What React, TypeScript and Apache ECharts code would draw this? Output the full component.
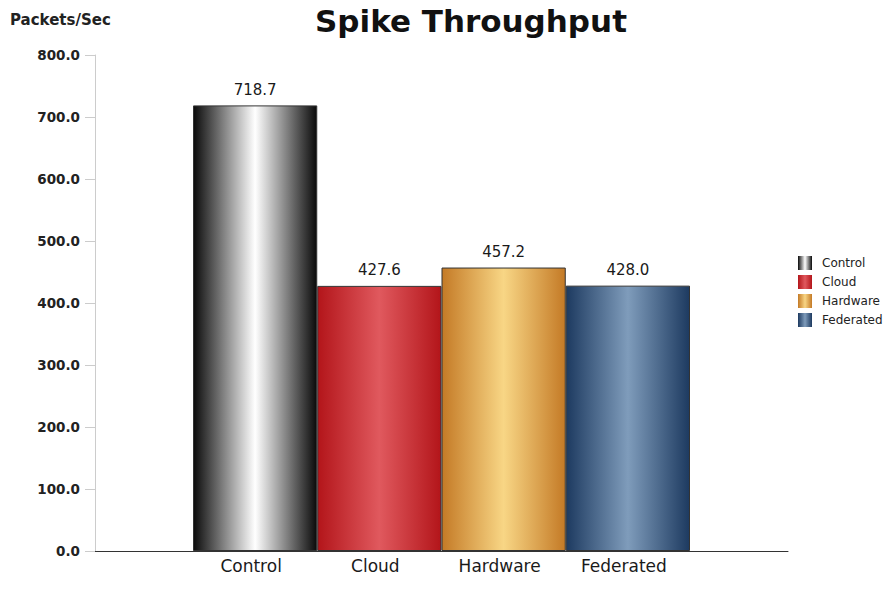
import React, { useEffect, useRef } from "react";
import * as echarts from "echarts";

const categories = ["Control", "Cloud", "Hardware", "Federated"];
const values = [718.7, 427.6, 457.2, 428.0];
const yMin = 0;
const yMax = 800;
const yInterval = 100;

const gradients = [
  ["#0a0a0a", "#ffffff", "#0a0a0a"],
  ["#b3151a", "#e0595e", "#b3151a"],
  ["#c47a26", "#f8d685", "#c47a26"],
  ["#1d3a60", "#7f9cbb", "#1d3a60"],
];

function grad(c: string[]) {
  return new echarts.graphic.LinearGradient(0, 0, 1, 0, [
    { offset: 0, color: c[0] },
    { offset: 0.5, color: c[1] },
    { offset: 1, color: c[2] },
  ]);
}

export default function App() {
  const ref = useRef<HTMLDivElement>(null);
  useEffect(() => {
    if (!ref.current) return;
    const chart = echarts.init(ref.current, null, { renderer: "svg" });
    const series = categories.map((name, i) => ({
      name,
      type: "bar",
      stack: "all",
      xAxisIndex: 1,
      yAxisIndex: 1,
      barWidth: "100%",
      data: categories.map((_, j) => (j === i ? values[i] : "-")),
      itemStyle: { color: grad(gradients[i]), borderColor: "#333", borderWidth: 1 },
      label: {
        show: true,
        position: "top",
        distance: 8,
        formatter: (p: any) => Number(p.value).toFixed(1),
        fontFamily: "DejaVu Sans",
        fontSize: 15,
        color: "#1a1a1a",
      },
    }));
    chart.setOption({
      animation: false,
      backgroundColor: "#fff",
      title: [
        {
          text: "Spike Throughput",
          left: 310,
          top: 0,
          textStyle: { fontFamily: "DejaVu Sans", fontWeight: "bold", fontSize: 31, color: "#111" },
        },
        {
          text: "Packets/Sec",
          left: 5,
          top: 7,
          textStyle: { fontFamily: "DejaVu Sans", fontWeight: "bold", fontSize: 15, color: "#222" },
        },
      ],
      legend: {
        orient: "vertical",
        left: 793,
        top: 251,
        itemWidth: 14,
        itemHeight: 14,
        itemGap: 5,
        icon: "rect",
        data: categories,
        itemStyle: { borderWidth: 0 },
        textStyle: {
          fontFamily: "DejaVu Sans",
          fontSize: 12,
          color: "#222",
          padding: [0, 0, 0, 5],
        },
      },
      grid: [
        { left: 95, right: 104, top: 55, bottom: 41 },
        { left: 193, right: 202, top: 55, bottom: 41 },
      ],
      xAxis: [
        {
          type: "category",
          gridIndex: 0,
          data: [""],
          axisLine: { show: true, lineStyle: { color: "#333", width: 1 } },
          axisTick: { show: false },
          axisLabel: { show: false },
        },
        {
          type: "category",
          gridIndex: 1,
          data: categories,
          axisLine: { show: false },
          axisTick: { show: false },
          axisLabel: {
            margin: 6,
            fontFamily: "DejaVu Sans",
            fontSize: 17,
            color: "#1a1a1a",
            padding: [0, 8, 0, 0],
          },
        },
      ],
      yAxis: [
        {
          type: "value",
          gridIndex: 0,
          min: yMin,
          max: yMax,
          interval: yInterval,
          axisLine: { show: true, lineStyle: { color: "#ccc" } },
          axisTick: { show: true, length: 10, lineStyle: { color: "#ccc" } },
          splitLine: { show: false },
          axisLabel: {
            margin: 15,
            formatter: (v: number) => v.toFixed(1),
            fontFamily: "DejaVu Sans",
            fontWeight: "bold",
            fontSize: 13.5,
            color: "#222",
          },
        },
        {
          type: "value",
          gridIndex: 1,
          min: yMin,
          max: yMax,
          interval: yInterval,
          show: false,
          splitLine: { show: false },
        },
      ],
      series,
    });
    return () => chart.dispose();
  }, []);
  return (
    <div
      ref={ref}
      style={{ position: "absolute", left: 0, top: 0, width: 892, height: 592 }}
    />
  );
}
